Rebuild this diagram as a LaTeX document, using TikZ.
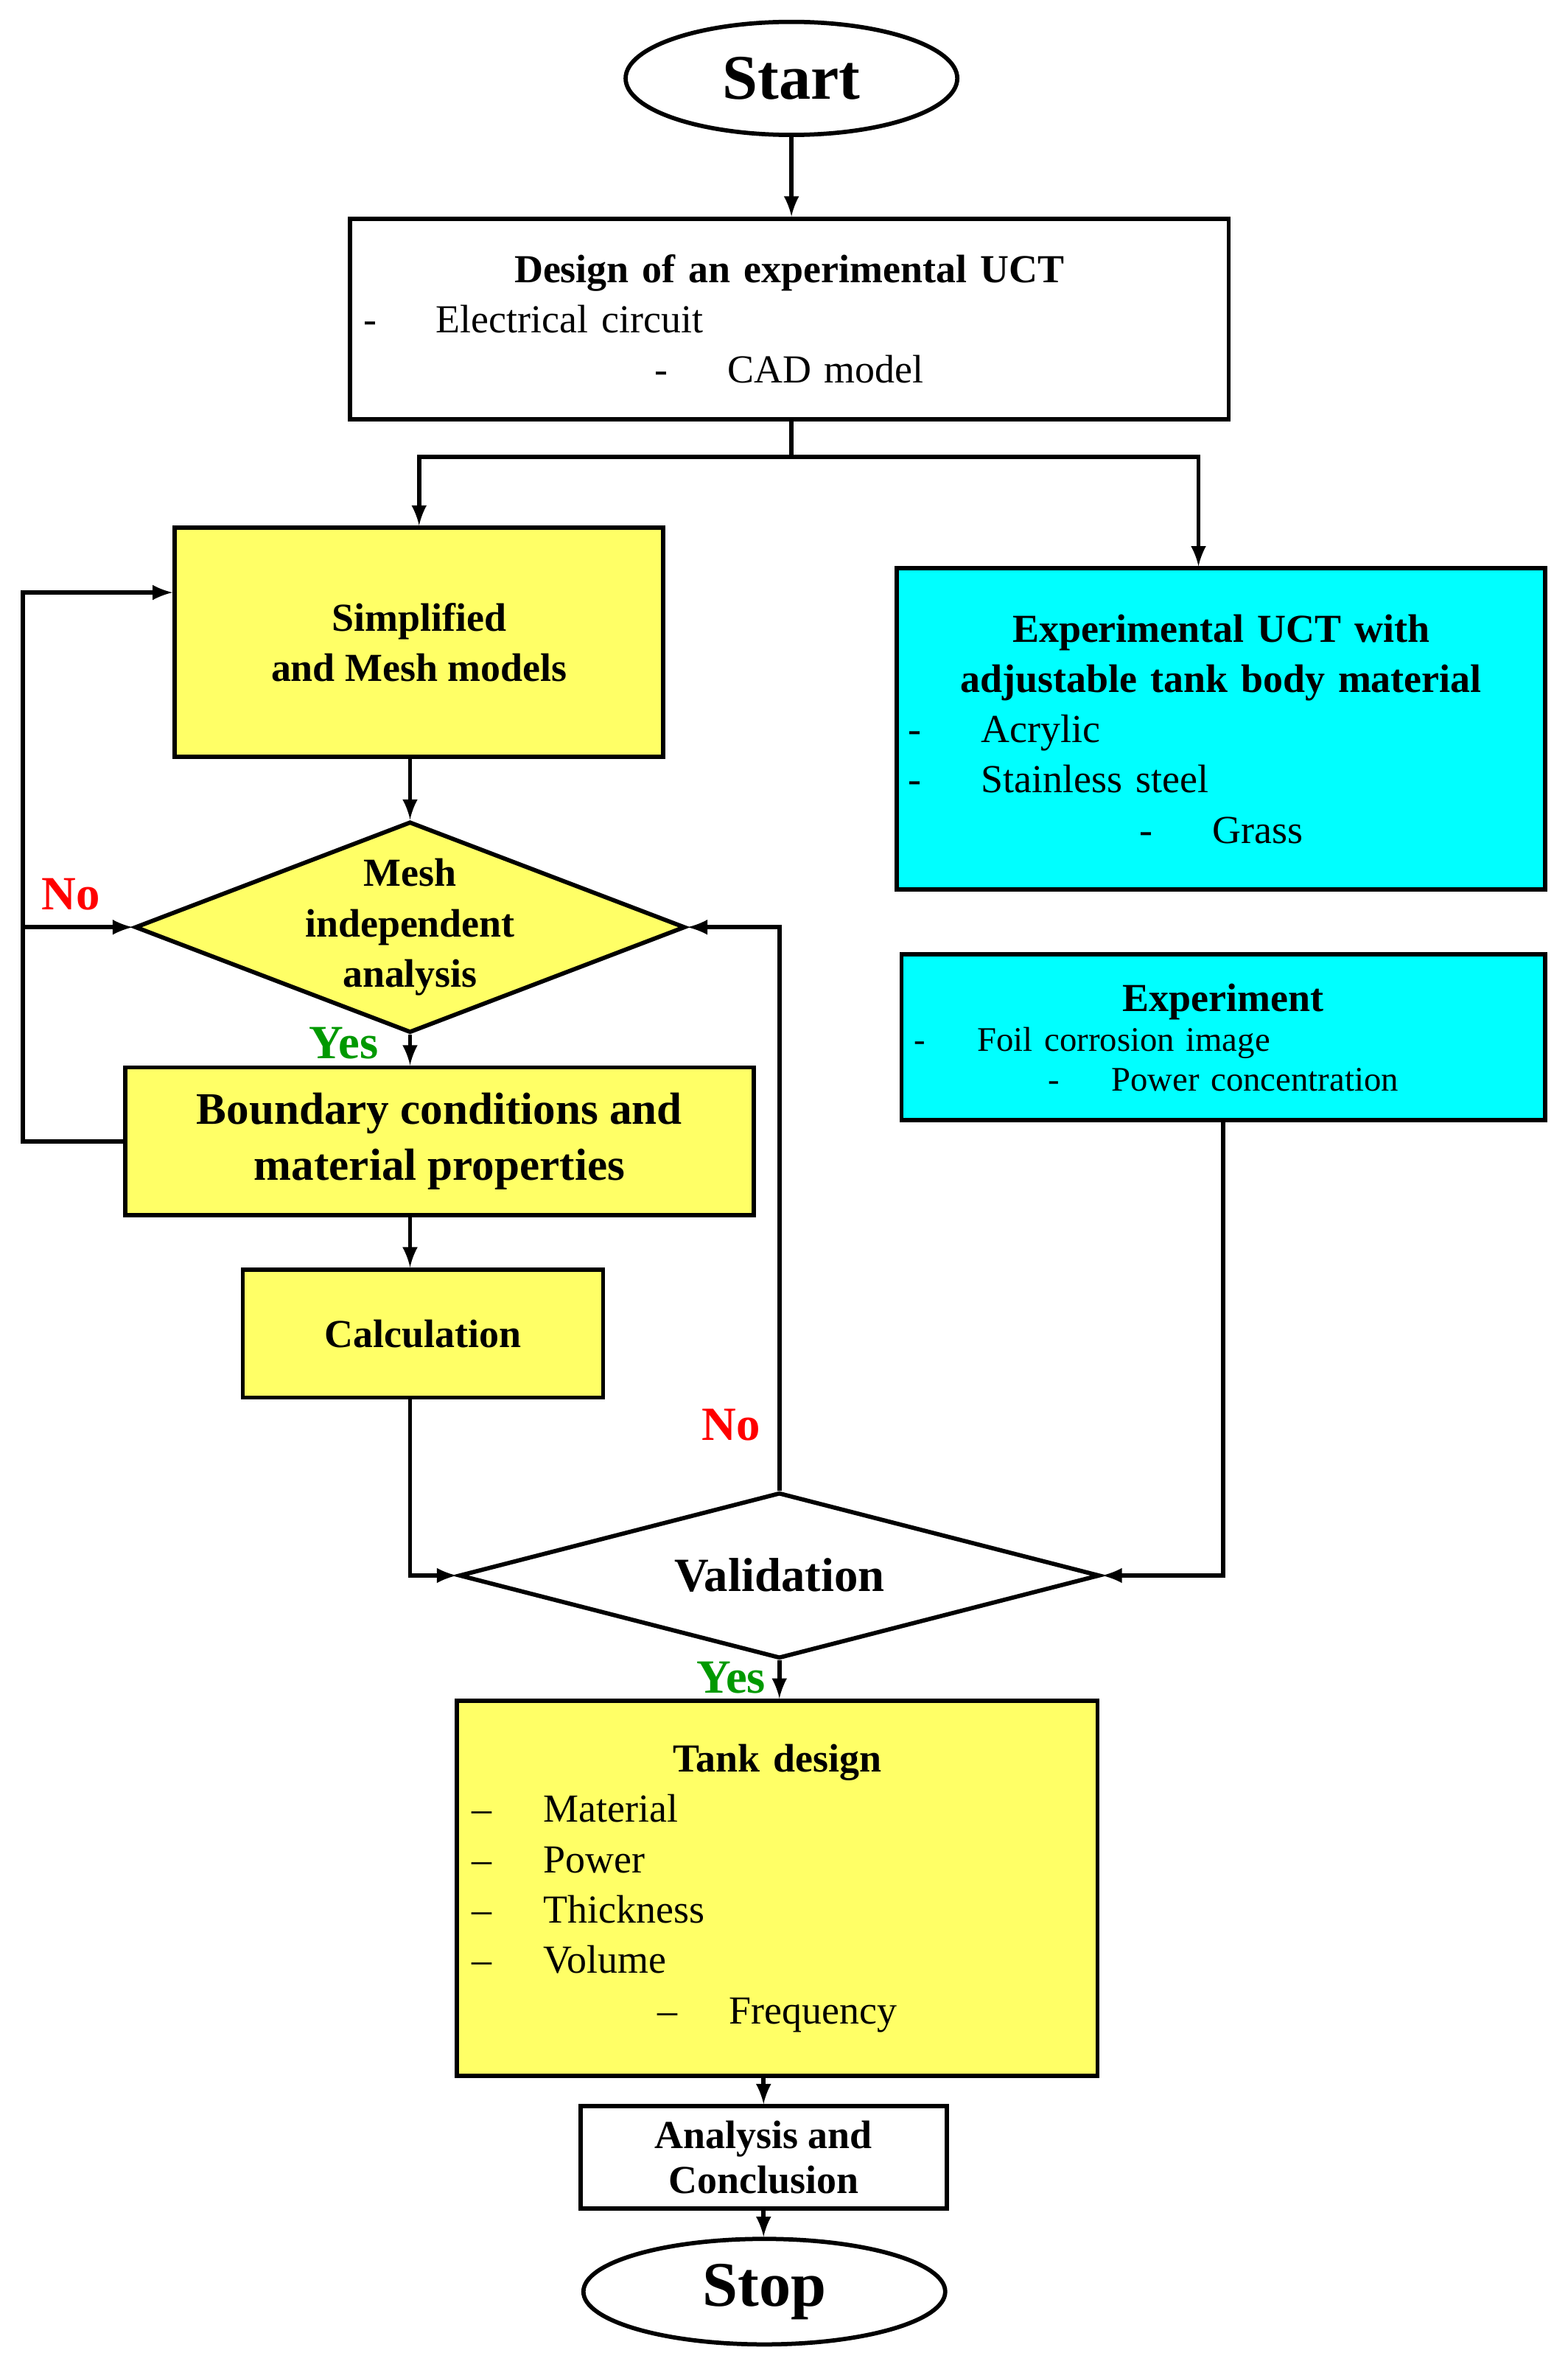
\documentclass[tikz,border=0pt]{standalone}
\usepackage{fontspec}
\setmainfont{Liberation Serif}
\usepackage{tikz}
\usetikzlibrary{shapes,arrows}
\definecolor{boxyellow}{RGB}{255,255,102}
\definecolor{boxcyan}{RGB}{0,255,255}
\tikzstyle{block} = [draw, rectangle, line width=1.6pt, inner sep=4pt, align=center,
    font=\fontsize{15}{19}\selectfont]
\tikzstyle{yblock} = [block, fill=boxyellow]
\tikzstyle{cblock} = [block, fill=boxcyan]
\tikzstyle{term} = [draw, ellipse, line width=1.6pt, font=\fontsize{24}{28}\selectfont\bfseries]
\tikzstyle{decide} = [draw, diamond, line width=1.6pt, inner sep=0pt]
\tikzstyle{line} = [draw, line width=1.6pt]
\tikzstyle{no} = [text=red, font=\fontsize{18}{20}\selectfont\bfseries]
\tikzstyle{yes} = [text=green!60!black, font=\fontsize{18}{20}\selectfont\bfseries]
\newcommand{\itm}[1]{\par\raggedright -\hspace{1.5em}#1}
\newcommand{\dsh}[1]{\par\raggedright --\hspace{1.3em}#1}

\begin{document}
\begin{tikzpicture}[>=latex]
    \useasboundingbox (0,0) rectangle (20.8,-31.36);
    % We start by placing the blocks
    \node [term, minimum width=4.4cm, minimum height=1.5cm] (start) at (10.5,-1.04) {Start};
    \node [block, minimum width=11.66cm, minimum height=2.66cm, text width=11.3cm] (design) at (10.47,-4.23)
        {\centering\textbf{Design of an experimental UCT}\itm{Electrical circuit}\itm{CAD model}};
    \node [yblock, minimum width=6.48cm, minimum height=3.04cm] (simp) at (5.56,-8.52)
        {\textbf{Simplified}\\\textbf{and Mesh models}};
    \node [cblock, minimum width=8.6cm, minimum height=4.26cm, text width=8.3cm] (uct) at (16.2,-9.67)
        {\centering\textbf{Experimental UCT with}\\\textbf{adjustable tank body material}\itm{Acrylic}\itm{Stainless steel}\itm{Grass}};
    \node [cblock, minimum width=8.54cm, minimum height=2.2cm, text width=8.2cm,
        font=\fontsize{13}{15}\selectfont] (expt) at (16.23,-13.76)
        {\centering\textbf{\fontsize{15}{17}\selectfont Experiment}\itm{Foil corrosion image}\itm{Power concentration}};
    \node [decide, fill=boxyellow, minimum width=7.3cm, minimum height=2.8cm,
        label={[align=center, font=\fontsize{15}{19}\selectfont\bfseries]center:Mesh\\independent\\analysis}] (mesh) at (5.44,-12.3) {};
    \node [yblock, minimum width=8.34cm, minimum height=1.96cm, font=\fontsize{17}{21}\selectfont] (bc) at (5.83,-15.14)
        {\textbf{Boundary conditions and}\\\textbf{material properties}};
    \node [yblock, minimum width=4.78cm, minimum height=1.7cm] (calc) at (5.61,-17.69) {\textbf{Calculation}};
    \node [decide, fill=white, minimum width=8.5cm, minimum height=2.2cm,
        label={[font=\fontsize{18}{20}\selectfont\bfseries]center:Validation}] (val) at (10.34,-20.9) {};
    \node [yblock, minimum width=8.5cm, minimum height=4.98cm, text width=8.1cm] (tank) at (10.31,-25.05)
        {\centering\textbf{Tank design}\dsh{Material}\dsh{Power}\dsh{Thickness}\dsh{Volume}\dsh{Frequency}};
    \node [block, minimum width=4.86cm, minimum height=1.36cm, font=\fontsize{15}{17}\selectfont] (ana) at (10.13,-28.62)
        {\textbf{Analysis and}\\\textbf{Conclusion}};
    \node [term, minimum width=4.8cm, minimum height=1.4cm] (stop) at (10.14,-30.4) {Stop};
    \coordinate (split) at (10.5,-6.06);
    \coordinate (lft) at (0.3,-7.86);
    % Connectors
    \draw [line,->] (start.south) -- (start.south |- design.north);
    \draw [line] (design.south -| split) -- (split);
    \draw [line,->] (split) -| (simp.north);
    \draw [line,->] (split) -| ([xshift=-0.3cm]uct.north);
    \draw [line,->] (mesh.north |- simp.south) -- (mesh.north);
    \draw [line,->] (mesh.south) -- (mesh.south |- bc.north);
    \draw [line,->] (mesh.south |- bc.south) -- (mesh.south |- calc.north);
    \draw [line,->] (mesh.south |- calc.south) |- (val.west);
    \draw [line,->] (bc.west) -| (lft) -- (lft -| simp.west);
    \draw [line,->] (lft |- mesh.west) -- (mesh.west);
    \draw [line,->] (val.north) |- (mesh.east);
    \draw [line,->] (expt.south) |- (val.east);
    \draw [line,->] (val.south) -- (val.south |- tank.north);
    \draw [line,->] (ana.north |- tank.south) -- (ana.north);
    \draw [line,->] (ana.south) -- (ana.south |- stop.north);
    % Labels
    \node [no] (no1) at (0.94,-11.86) {No};
    \node [no] (no2) at (9.7,-18.9) {No};
    \node [yes] (yes1) at (4.56,-13.84) {Yes};
    \node [yes] (yes2) at (9.7,-22.26) {Yes};
\end{tikzpicture}
\end{document}
